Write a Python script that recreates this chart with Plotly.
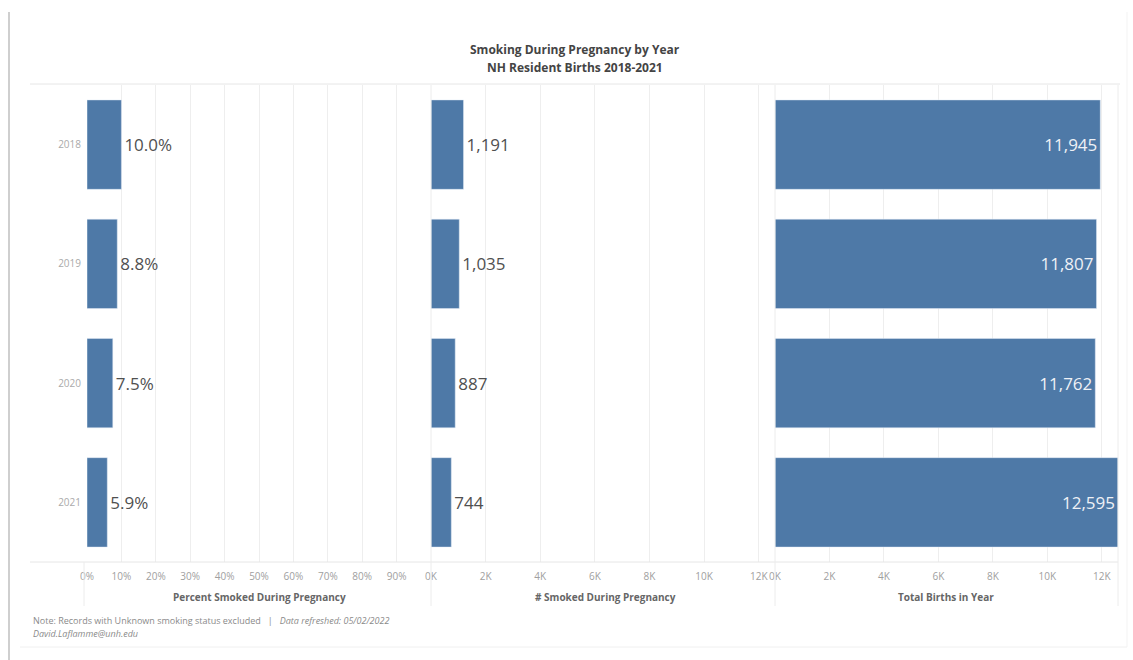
import plotly.graph_objects as go
from plotly.subplots import make_subplots

# ---- data ----
years = ["2018", "2019", "2020", "2021"]
pct_smoked = [0.100, 0.088, 0.075, 0.059]
num_smoked = [1191, 1035, 887, 744]
total_births = [11945, 11807, 11762, 12595]

pct_ticks = [0, 0.1, 0.2, 0.3, 0.4, 0.5, 0.6, 0.7, 0.8, 0.9]
k_ticks = [0, 2000, 4000, 6000, 8000, 10000, 12000]
k_tick_labels = ["0K", "2K", "4K", "6K", "8K", "10K", "12K"]

axis_titles = ["Percent Smoked During Pregnancy", "# Smoked During Pregnancy", "Total Births in Year"]

# ---- geometry helpers (pixel -> paper) ----
W, H = 1133, 660
L, R, T, B = 87, 1118, 85, 562
def px(x):
    return (x - L) / (R - L)
def py(y):
    return (B - y) / (B - T)

BLUE = "#4e79a7"
FONT = "Open Sans"
GRID = "#eeeeee"

fig = make_subplots(rows=1, cols=3, shared_yaxes=True, horizontal_spacing=0)

fig.add_trace(go.Bar(
    y=years, x=pct_smoked, orientation="h", marker_color=BLUE,
    texttemplate="%{x:.1%}", textposition="outside", cliponaxis=False,
    textfont=dict(size=17, color="#505050", family=FONT), hoverinfo="skip"),
    row=1, col=1)
fig.add_trace(go.Bar(
    y=years, x=num_smoked, orientation="h", marker_color=BLUE,
    texttemplate="%{x:,}", textposition="outside", cliponaxis=False,
    textfont=dict(size=17, color="#505050", family=FONT), hoverinfo="skip"),
    row=1, col=2)
fig.add_trace(go.Bar(
    y=years, x=total_births, orientation="h", marker_color=BLUE,
    texttemplate="%{x:,}", textposition="inside", insidetextanchor="end",
    textfont=dict(size=17, color="#eef1f6", family=FONT), hoverinfo="skip"),
    row=1, col=3)

d1, d2 = px(431), px(775)
kmax = max(total_births)
common_x = dict(showline=False, zeroline=False, showgrid=True, gridcolor=GRID, gridwidth=1,
                ticks="outside", ticklen=5, tickcolor="rgba(0,0,0,0)",
                tickfont=dict(size=10, color="#a0a0a0", family=FONT), fixedrange=True)
fig.update_xaxes(domain=[0, d1], range=[0, 1], tickvals=pct_ticks, tickformat=".0%", row=1, col=1, **common_x)
fig.update_xaxes(domain=[d1, d2], range=[0, kmax], tickvals=k_ticks, ticktext=k_tick_labels, row=1, col=2, **common_x)
fig.update_xaxes(domain=[d2, 1], range=[0, kmax], tickvals=k_ticks, ticktext=k_tick_labels, row=1, col=3, **common_x)

fig.update_yaxes(categoryorder="array", categoryarray=years, autorange="reversed",
                 showgrid=False, zeroline=False, showline=False,
                 ticks="outside", ticklen=3, tickcolor="rgba(0,0,0,0)",
                 tickfont=dict(size=10, color="#aaaaaa", family=FONT), fixedrange=True)

fig.update_layout(
    width=W, height=H,
    margin=dict(l=L, r=W - R, t=T, b=H - B),
    paper_bgcolor="white", plot_bgcolor="white",
    bargap=0.25, showlegend=False,
    font=dict(family=FONT),
)

shapes = []
def line(x0, y0, x1, y1, color, width=1):
    shapes.append(dict(type="line", xref="paper", yref="paper",
                       x0=px(x0), y0=py(y0), x1=px(x1), y1=py(y1),
                       line=dict(color=color, width=width), layer="above"))
# outer frame
line(9, 12, 9, 660, "#cfcfcf", 2)
line(20, 647, 1127, 647, "#f0f0f0")
line(1127, 12, 1127, 647, "#f3f3f3")
# header / axis separators
line(30, 84, 1120, 84, "#e6e6e6")
line(30, 562, 1118, 562, "#e6e6e6")
for xx in (84, 431, 775, 1118):
    line(xx, 562, xx, 606, "#ececec")
for xx in (431, 775, 1118):
    line(xx, 85, xx, 562, "#ececec")
fig.update_layout(shapes=shapes)

ann = []
ann.append(dict(text="<b>Smoking During Pregnancy by Year</b>", x=px(575), y=py(49), xref="paper", yref="paper",
                showarrow=False, font=dict(size=12, color="#444444", family=FONT), xanchor="center", yanchor="middle"))
ann.append(dict(text="<b>NH Resident Births 2018-2021</b>", x=px(575), y=py(68), xref="paper", yref="paper",
                showarrow=False, font=dict(size=12, color="#444444", family=FONT), xanchor="center", yanchor="middle"))
for title, cx in zip(axis_titles, (259, 605, 946)):
    ann.append(dict(text="<b>" + title + "</b>", x=px(cx), y=py(597), xref="paper", yref="paper", showarrow=False,
                    font=dict(size=10, color="#666666", family=FONT), xanchor="center", yanchor="middle"))
ann.append(dict(text="Note: Records with Unknown smoking status excluded &nbsp;&nbsp;| &nbsp;&nbsp;<i>Data refreshed: 05/02/2022</i>",
                x=px(31), y=py(620), xref="paper", yref="paper", showarrow=False,
                font=dict(size=9, color="#8a8a8a", family=FONT), xanchor="left", yanchor="middle"))
ann.append(dict(text="<i>David.Laflamme@unh.edu</i>",
                x=px(31), y=py(633), xref="paper", yref="paper", showarrow=False,
                font=dict(size=9, color="#8a8a8a", family=FONT), xanchor="left", yanchor="middle"))
fig.update_layout(annotations=ann)

fig.write_html("out.html", config={"displayModeBar": False},
               post_script="document.body.style.margin='0';document.body.style.overflow='hidden';")
